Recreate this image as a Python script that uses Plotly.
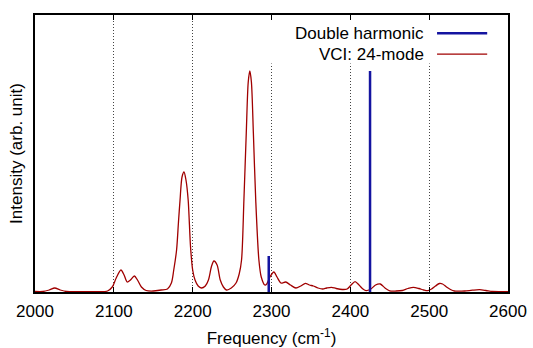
import plotly.graph_objects as go

# VCI: 24-mode spectrum (arbitrary units)
freq = [2000, 2010, 2018, 2025, 2032, 2040, 2060, 2080, 2092, 2098, 2103, 2109, 2113, 2117,
        2121, 2126, 2130, 2135, 2141, 2150, 2160, 2168, 2173, 2176, 2179.6, 2182, 2184,
        2186.5, 2189, 2191.5, 2194.3, 2197.3, 2200, 2203, 2207, 2211, 2216, 2220, 2224,
        2227, 2231, 2235, 2239, 2243, 2249, 2255, 2259, 2262, 2265, 2268, 2270.5, 2272.5,
        2274.5, 2277, 2280, 2284, 2287, 2291.5, 2294, 2298, 2303, 2307, 2312, 2318, 2324,
        2331, 2337, 2343, 2348, 2353, 2359, 2365, 2370, 2376, 2382, 2390, 2396, 2401, 2406,
        2411, 2416, 2420, 2426, 2432, 2438, 2444, 2450, 2458, 2466, 2473, 2480, 2487, 2493,
        2498, 2503, 2508, 2513, 2517, 2522, 2527, 2532, 2537, 2545, 2555, 2564, 2572, 2580,
        2590, 2600]
vci = [0.5, 0.5, 2, 4, 2, 0.5, 0.3, 0.3, 1, 5, 14, 22, 17, 10,
       12, 16, 12, 5, 1.5, 1, 2, 3, 9, 22, 42, 70, 92,
       115, 120, 112, 92, 45, 22, 12, 6, 4, 6, 12, 26,
       31, 27, 12, 5, 2, 4, 9, 18, 32, 92, 159, 210, 221,
       210, 159, 92, 32, 15, 7, 8, 15, 20, 15, 9, 10, 7,
       4, 6, 8.7, 7, 6, 4, 3, 4, 4.7, 3.5, 2.5, 3, 7, 10.3,
       7, 3, 1.3, 3, 7, 8, 4, 1.2, 1, 1.5, 3.5, 4.7, 3.5, 2,
       1.3, 3, 6, 8.5, 8, 5, 2.5, 1, 0.8, 1, 1.8, 2.3, 1.5, 0.5,
       0.3, 0.3]

# Double harmonic stick spectrum
dh_freq = [2296.5, 2425]
dh_int = [36, 221]

tick_vals = [2000, 2100, 2200, 2300, 2400, 2500, 2600]
y_top = 277

FONT = "Liberation Sans, Arial, sans-serif"
BLUE = "#1414a0"
RED = "#a00000"

sx, sy = [], []
for f, v in zip(dh_freq, dh_int):
    sx += [f, f, None]
    sy += [0, v, None]

fig = go.Figure()
fig.add_trace(go.Scatter(x=freq, y=vci, mode="lines", name="VCI: 24-mode",
                         line=dict(color=RED, width=1.3, shape="spline", smoothing=0.8)))
fig.add_trace(go.Scatter(x=sx, y=sy, mode="lines", name="Double harmonic",
                         line=dict(color=BLUE, width=2.5)))

# opaque legend box (covers grid lines; sits above the data, which never reaches it)
fig.add_shape(type="rect", xref="paper", yref="paper", x0=0.48, x1=0.996, y0=0.825, y1=0.978,
              fillcolor="white", line=dict(width=0), layer="above")

# legend built from text + sample lines (samples on the right like the original)
legend = [("Double harmonic", BLUE, 2.5, 0.934), ("VCI: 24-mode", RED, 1.3, 0.859)]
for txt, col, w, yy in legend:
    fig.add_annotation(text=txt, xref="paper", yref="paper", x=0.826, y=yy,
                       xanchor="right", yanchor="middle", showarrow=False,
                       font=dict(family=FONT, size=17, color="black"))
    fig.add_shape(type="line", xref="paper", yref="paper", x0=0.850, x1=0.956,
                  y0=yy, y1=yy, line=dict(color=col, width=w), layer="above")

fig.update_layout(
    width=533, height=348,
    margin=dict(l=35, r=24.5, t=15, b=56, autoexpand=False),
    paper_bgcolor="white", plot_bgcolor="white",
    showlegend=False, hovermode=False,
    font=dict(family=FONT, size=17, color="black"),
)
fig.update_xaxes(
    range=[2000, 2600], tickvals=tick_vals, ticktext=[str(t) for t in tick_vals],
    ticks="inside", ticklen=5, tickwidth=1, tickcolor="black",
    showline=True, linecolor="black", linewidth=1.5, mirror="ticks",
    showgrid=True, gridcolor="#444444", griddash="1px,2px", gridwidth=1,
    zeroline=False, automargin=False,
    tickfont=dict(family=FONT, size=17), ticklabelstandoff=3,
    title=dict(text="Frequency (cm<sup>-1</sup>)", font=dict(family=FONT, size=17), standoff=12),
)
fig.update_yaxes(
    range=[0, y_top], showticklabels=False, ticks="",
    showline=True, linecolor="black", linewidth=1.5, mirror=True,
    showgrid=False, zeroline=False, automargin=False,
    title=dict(text="Intensity (arb. unit)", font=dict(family=FONT, size=17), standoff=6),
)

# remove the default 8px page margin so the figure fills the window exactly
fig.write_html("out.html", config={"displayModeBar": False},
               post_script="document.body.style.margin='0px';document.body.style.overflow='hidden';")
